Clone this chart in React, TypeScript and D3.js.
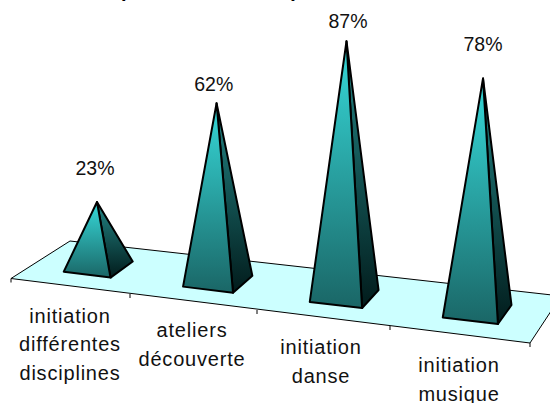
import * as React from 'react'
import * as d3 from 'd3'

const categories = [
  ['initiation', 'différentes', 'disciplines'],
  ['ateliers', 'découverte'],
  ['initiation', 'danse'],
  ['initiation', 'musique'],
]
const values = [23, 62, 87, 78]
const tickPositions = [0, 1, 2, 3, 4]

const W = 550
const H = 403

// floor edges
const frontX = d3.scaleLinear().domain(tickPositions).range([11, 130, 257, 390, 530])
const frontY = d3.scaleLinear().domain(tickPositions).range([278.5, 294, 310, 326, 343])
const depthX = d3.scaleLinear().domain([0, 4]).range([59, 31])
const depthY = d3.scaleLinear().domain([0, 4]).range([-37.5, -47])
const heightScale = d3.scaleLinear().domain([0, 100]).range([0, 290])

// label placement, the original's labels sit unevenly
const valueLabelY = [175, 90.7, 27.7, 51]
const valueLabelX = [95, 213.7, 348, 483]
const categoryLabelY = [322.7, 337, 354, 372]
const categoryLabelX = [70, 192, 321, 459]

type Pt = [number, number]

function floorPoint(u: number, v: number): Pt {
  return [frontX(u) + v * depthX(u), frontY(u) + v * depthY(u)]
}

const poly = d3.line<Pt>().curve(d3.curveLinearClosed)

function Pyramid({ index, value }: { index: number; value: number }) {
  const halfW = 0.2
  const v0 = 0.3
  const v1 = 0.71
  const u = index + 0.5
  const fl = floorPoint(u - halfW, v0)
  const fr = floorPoint(u + halfW, v0)
  const br = floorPoint(u + halfW, v1)
  const c = floorPoint(u, (v0 + v1) / 2)
  // verticals spread out slightly with the perspective
  const h = heightScale(value) * (1 + (u - 2) * 0.02)
  const apex: Pt = [c[0] + (u - 2) * 0.016 * h, c[1] - h]
  return (
    <g stroke="#000" strokeWidth={2} strokeLinejoin="round">
      <path d={poly([apex, fr, br]) ?? ''} fill="url(#side)" />
      <path d={poly([apex, fl, fr]) ?? ''} fill="url(#front)" />
    </g>
  )
}

export default function App() {
  const floor: Pt[] = [floorPoint(0, 0), floorPoint(0, 1), floorPoint(4, 1), floorPoint(4, 0)]
  return (
    <svg
      width={W}
      height={H}
      viewBox={`0 0 ${W} ${H}`}
      style={{ position: 'absolute', left: 0, top: 0, background: '#fff', fontFamily: '"Liberation Sans", Arial, sans-serif' }}
    >
      <defs>
        <linearGradient id="front" x1="0" y1="0" x2="0" y2="1">
          <stop offset="0" stopColor="#33CCCC" />
          <stop offset="0.12" stopColor="#33CCCC" />
          <stop offset="1" stopColor="#1A6666" />
        </linearGradient>
        <linearGradient id="side" x1="0" y1="0" x2="0" y2="1">
          <stop offset="0" stopColor="#1F7A7A" />
          <stop offset="0.12" stopColor="#1F7A7A" />
          <stop offset="1" stopColor="#021C1C" />
        </linearGradient>
      </defs>
      {/* title is cut off by the top of the frame, only these descenders show */}
      <g fontSize={20} fontWeight="bold" fill="#000">
        <text x={121} y={-3}>p</text>
        <text x={288} y={-3}>(</text>
      </g>
      <path d={poly(floor) ?? ''} fill="#CCFFFF" stroke="#000" strokeWidth={1} />
      {tickPositions.map((t) => (
        <line key={t} x1={frontX(t)} x2={frontX(t)} y1={frontY(t)} y2={frontY(t) + 4} stroke="#000" />
      ))}
      {values.map((v, i) => (
        <Pyramid key={i} index={i} value={v} />
      ))}
      {values.map((v, i) => (
        <text key={i} x={valueLabelX[i]} y={valueLabelY[i]} textAnchor="middle" fontSize={19.5} fill="#111">
          {v}%
        </text>
      ))}
      {categories.map((lines, i) => (
        <text key={i} textAnchor="middle" fontSize={20} fill="#111" letterSpacing={0.8}>
          {lines.map((l, j) => (
            <tspan key={j} x={categoryLabelX[i]} y={categoryLabelY[i] + j * 28.6}>
              {l}
            </tspan>
          ))}
        </text>
      ))}
    </svg>
  )
}
